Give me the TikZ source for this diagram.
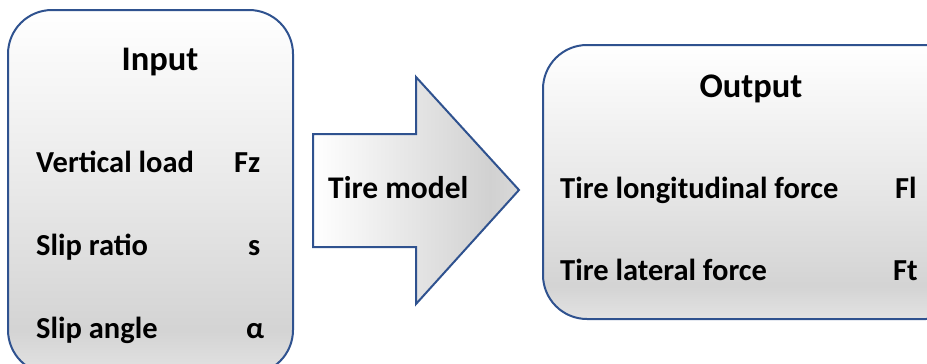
\documentclass[tikz,border=0pt]{standalone}
\usepackage{fontspec}
\setmainfont{Carlito}
\definecolor{edgeblue}{HTML}{2F528F}
\pgfdeclareverticalshading{panelshade}{100bp}{color(0bp)=(gray!22); color(25bp)=(gray!22); color(31bp)=(gray!34); color(50bp)=(gray!18); color(75bp)=(white); color(100bp)=(white)}
\pgfdeclarehorizontalshading{arrowshade}{100bp}{color(0bp)=(white); color(25bp)=(white); color(68bp)=(gray!36); color(75bp)=(gray!30); color(100bp)=(gray!30)}
\tikzset{
  panel/.style={draw=edgeblue, line width=2pt, rounded corners=44pt, shading=panelshade},
  bigarrow/.style={draw=edgeblue, line width=2pt, shading=arrowshade},
  txt/.style={font=\fontsize{30.5}{36}\selectfont\bfseries, inner sep=0pt, anchor=base west, text=black},
  title/.style={txt, font=\fontsize{34.5}{40}\selectfont\bfseries, anchor=base},
}
\begin{document}
\begin{tikzpicture}[x=1pt,y=-1pt]
\useasboundingbox (0,0) rectangle (927,364);
\clip (0,0) rectangle (927,364);
% input panel
\path[panel] (8,10) rectangle (293,374);
% arrow
\path[bigarrow] (313,134) -- (416,134) -- (416,77) -- (519,190) -- (416,304) -- (416,247) -- (313,247) -- cycle;
% output panel
\path[panel] (543,45) rectangle (970,319);
% texts
\node[title] (in) at (160,70) {Input};
\node[txt] (vl) at (36,172) {Vertical load};
\node[txt] (fz) at (234,172) {Fz};
\node[txt] (sr) at (36,255) {Slip ratio};
\node[txt] (s) at (248,255) {s};
\node[txt] (sa) at (36,338) {Slip angle};
\node[txt] (al) at (246,338) {α};
\node[txt, font=\fontsize{31.5}{36}\selectfont\bfseries] (tm) at (328,198) {Tire model};
\node[title] (out) at (751,97) {Output};
\node[txt] (tlf) at (560,198) {Tire longitudinal force};
\node[txt] (fl) at (895,198) {Fl};
\node[txt] (tla) at (560,280) {Tire lateral force};
\node[txt] (ft) at (893,280) {Ft};
\end{tikzpicture}
\end{document}
